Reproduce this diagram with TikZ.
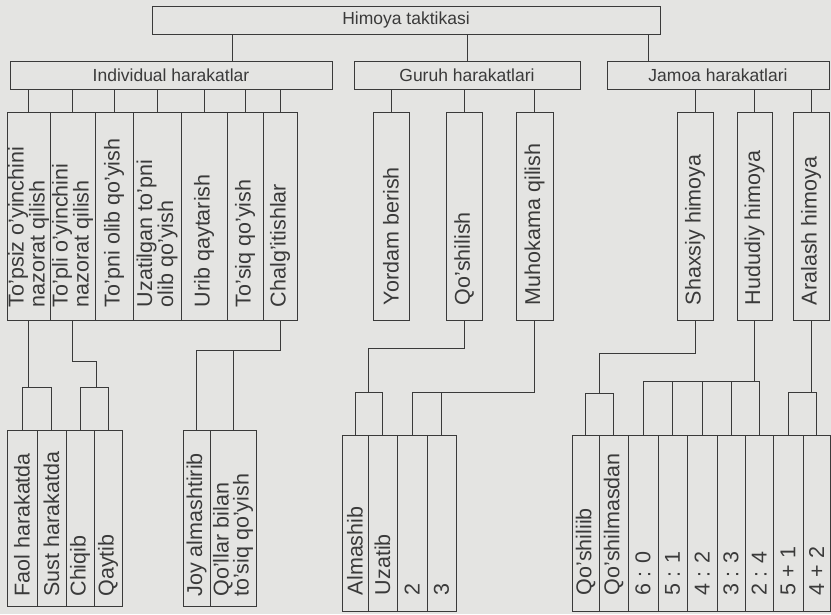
\documentclass[tikz,border=0pt]{standalone}
\usepackage{fontspec}
\setmainfont{Liberation Sans}
\usepackage{graphicx}
\usetikzlibrary{positioning,calc}

\definecolor{qogoz}{RGB}{228,228,226}
\definecolor{chiziq}{RGB}{58,58,58}

% tik yozuv: pastdan yuqoriga, pastki chetga tekislangan
\newcommand{\tik}[2][182pt]{\rotatebox{90}{\parbox{#1}{\raggedright #2}}}

\tikzset{
  blok/.style={draw, line width=1pt, fill=qogoz, inner sep=0pt},
  sarlavha/.style={blok, minimum height=28pt, font=\fontsize{17.5}{20}\selectfont},
  ustun/.style={blok, minimum height=208pt, font=\fontsize{21.5}{20}\selectfont},
  pastki/.style={ustun, minimum height=176pt},
}

\begin{document}
\begin{tikzpicture}[x=1pt, y=-1pt, color=chiziq, line width=1pt]
  \useasboundingbox[fill=qogoz] (0,0) rectangle (831,614);

  % bosh blok
  \node[sarlavha, minimum width=508pt] (himoya) at (406,20) {Himoya taktikasi};

  % birinchi daraja
  \node[sarlavha, minimum width=322pt] (indiv) at (171,75) {Individual harakatlar};
  \node[sarlavha, minimum width=226pt] (guruh) at (467,75) {Guruh harakatlari};
  \node[sarlavha, minimum width=222pt] (jamoa) at (718,75) {Jamoa harakatlari};

  % ikkinchi daraja
  \node[ustun, minimum width=43pt] (topsiz) at (28.5,216) {\tik{To'psiz o'yinchini\\nazorat qilish}};
  \node[ustun, minimum width=45pt] (topli)  at (72.5,216) {\tik{To'pli o'yinchini\\nazorat qilish}};
  \node[ustun, minimum width=38pt] (topni)  at (114,216)  {\tik{To'pni olib qo'yish}};
  \node[ustun, minimum width=48pt] (uzatil) at (157,216)  {\tik{Uzatilgan to'pni\\olib qo'yish}};
  \node[ustun, minimum width=46pt] (urib)   at (204,216)  {\tik{Urib qaytarish}};
  \node[ustun, minimum width=36pt] (tosiq)  at (245,216)  {\tik{To'siq qo'yish}};
  \node[ustun, minimum width=34pt] (chalg)  at (280,216)  {\tik{Chalg'itishlar}};

  \node[ustun, minimum width=36pt] (yordam) at (391,216)   {\tik[178pt]{Yordam berish}};
  \node[ustun, minimum width=36pt] (qoshil) at (464,216)   {\tik[178pt]{Qo'shilish}};
  \node[ustun, minimum width=37pt] (muhok)  at (534.5,216) {\tik[178pt]{Muhokama qilish}};

  \node[ustun, minimum width=36pt] (shaxs) at (695,216)   {\tik[178pt]{Shaxsiy himoya}};
  \node[ustun, minimum width=35pt] (hudud) at (754.5,216) {\tik[178pt]{Hududiy himoya}};
  \node[ustun, minimum width=36pt] (aral)  at (811,216)   {\tik[178pt]{Aralash himoya}};

  % uchinchi daraja
  \node[pastki, minimum width=30pt] (faol)   at (22,518.5)    {\tik[156pt]{Faol harakatda}};
  \node[pastki, minimum width=29pt] (sust)   at (51.5,518.5)  {\tik[156pt]{Sust harakatda}};
  \node[pastki, minimum width=28pt] (chiqib) at (80,518.5)    {\tik[156pt]{Chiqib}};
  \node[pastki, minimum width=28pt] (qaytib) at (108,518.5)   {\tik[156pt]{Qaytib}};
  \node[pastki, minimum width=27pt] (joy)    at (196.5,518.5) {\tik[156pt]{Joy almashtirib}};
  \node[pastki, minimum width=46pt] (qollar) at (233,518.5)   {\tik[156pt]{Qo'llar bilan\\to'siq qo'yish}};

  \node[pastki, minimum width=26pt] (almash) at (355,523)   {\tik[144pt]{Almashib}};
  \node[pastki, minimum width=29pt] (uzatib) at (382.5,523) {\tik[144pt]{Uzatib}};
  \node[pastki, minimum width=30pt] (ikki)   at (412,523)   {\tik[144pt]{2}};
  \node[pastki, minimum width=29pt] (uch)    at (441.5,523) {\tik[144pt]{3}};

  \node[pastki, minimum width=27pt] (qsh1) at (585.5,523) {\tik[144pt]{Qo'shiliib}};
  \node[pastki, minimum width=29pt] (qsh2) at (613.5,523) {\tik[144pt]{Qo'shilmasdan}};
  \node[pastki, minimum width=30pt] (s60)  at (643,523)   {\tik[144pt]{6 : 0}};
  \node[pastki, minimum width=29pt] (s51)  at (672.5,523) {\tik[144pt]{5 : 1}};
  \node[pastki, minimum width=30pt] (s42)  at (702,523)   {\tik[144pt]{4 : 2}};
  \node[pastki, minimum width=28pt] (s33)  at (731,523)   {\tik[144pt]{3 : 3}};
  \node[pastki, minimum width=28pt] (s24)  at (759,523)   {\tik[144pt]{2 : 4}};
  \node[pastki, minimum width=30pt] (b51)  at (788,523)   {\tik[144pt]{5 + 1}};
  \node[pastki, minimum width=27pt] (b42)  at (816.5,523) {\tik[144pt]{4 + 2}};

  % ulanishlar: bosh blokdan
  \draw ([xshift=61pt]indiv.north) -- ([xshift=61pt]indiv.north |- himoya.south);
  \draw (guruh.north) -- (guruh.north |- himoya.south);
  \draw ([xshift=-70pt]jamoa.north) -- ([xshift=-70pt]jamoa.north |- himoya.south);

  \foreach \n in {topsiz,topli,topni,uzatil,urib,tosiq,chalg}
    \draw (\n.north) -- (\n.north |- indiv.south);
  \foreach \n in {yordam,qoshil,muhok}
    \draw (\n.north) -- (\n.north |- guruh.south);
  \foreach \n in {shaxs,hudud,aral}
    \draw (\n.north) -- (\n.north |- jamoa.south);

  % ulanishlar: pastki bloklarga
  \draw (topsiz.south) -- ++(0,67) coordinate (f1);
  \draw (faol.north) |- (f1) -| (sust.north);
  \draw (topli.south) -- ++(0,41) -| ++(24,26) coordinate (f2);
  \draw (chiqib.north) |- (f2) -| (qaytib.north);
  \draw (chalg.south) -- ++(0,30) coordinate (f3);
  \draw (joy.north) |- (f3);
  \draw (qollar.north) -- (qollar.north |- f3);

  \draw (qoshil.south) -- ++(0,28) -| ++(-96,44) coordinate (g1);
  \draw (almash.north) |- (g1) -| (uzatib.north);
  \draw (muhok.south) -- ++(0,72) coordinate (g2);
  \draw (ikki.north) |- (g2);
  \draw (uch.north) -- (uch.north |- g2);

  \draw (shaxs.south) -- ++(0,33) -| ++(-96,40) coordinate (j1);
  \draw (qsh1.north) |- (j1) -| (qsh2.north);
  \draw (hudud.south) -- ++(0,61) coordinate (j2);
  \draw (s60.north) |- (s24.north |- j2) -- (s24.north);
  \foreach \n in {s51,s42,s33}
    \draw (\n.north) -- (\n.north |- j2);
  \draw (aral.south) -- ++(0,72) coordinate (j3);
  \draw (b51.north) |- (j3) -| (b42.north);
\end{tikzpicture}
\end{document}
